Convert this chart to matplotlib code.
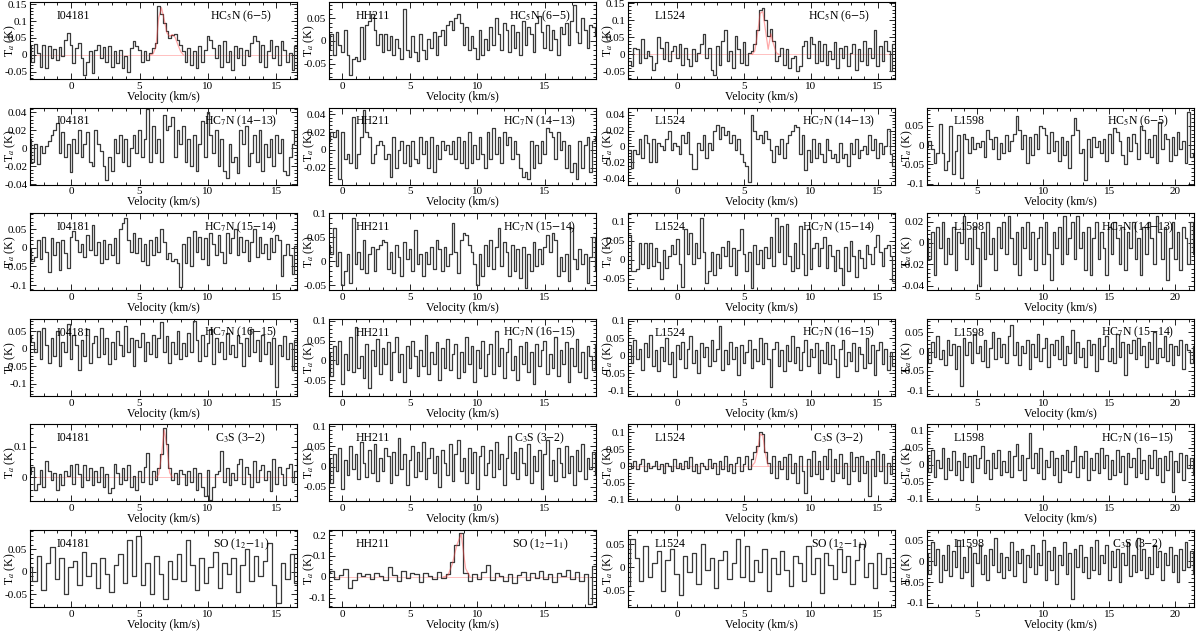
import numpy as np
import matplotlib
matplotlib.use("Agg")
import matplotlib.pyplot as plt
from matplotlib.ticker import MultipleLocator, AutoMinorLocator, FuncFormatter

plt.rcParams['font.family'] = ['Liberation Serif', 'DejaVu Serif']
plt.rcParams['mathtext.fontset'] = 'stix'
plt.rcParams['axes.unicode_minus'] = False

# ---------------- data (antenna temperature in mK, channel spectra) ----------------
sources = ["I04181", "HH211", "L1524", "L1598"]
# channel grids: first channel velocity (km/s) and channel width per panel column
chan_start = {"I04181": -3.0, "HH211": -1.0, "L1524": -3.6, "L1598": 1.2}
chan_width = 0.2
so_start = {"I04181": -3.0, "HH211": -1.1, "L1524": -3.7}
so_width = 0.33

i04181_hc5n_65 = [30,-20,32,5,-35,28,-40,25,-10,18,-15,22,-5,45,65,
                  30,-25,20,35,-10,-60,-20,10,-55,15,
                  30,-10,22,-20,25,-35,10,-25,15,-40,-5,-52,20,40,25,
                  15,-20,10,-15,5,20,
                  35,145,120,95,70,50,58,62,45,30,10,-20,20,
                  -30,10,-40,25,-20,15,55,45,20,-10,30,-35,40,-20,10,
                  -45,25,-10,20,-30,15,-5,35,55,40,-20,30,-35,10,45,-10,25,-30,40,15,-20,5,-45,25,-50]
i04181_hc5n_65_fit_v = [5.8,6.0,6.2,6.4,6.6,6.8,7.0,7.2,7.4,7.6,7.8,8.0,8.2]
i04181_hc5n_65_fit_t = [0,3,25,110,140,105,65,55,60,52,30,10,0]

hh211_hc5n_65 = [-20,15,-30,20,-10,-25,25,-30,-75,-40,
                 -35,-45,30,-40,35,45,60,25,-10,15,
                 -25,15,-20,10,-30,5,-15,-40,70,-20,
                 -35,10,-25,-45,15,-20,-40,5,-15,20,
                 -30,10,25,-10,35,45,25,50,60,40,
                 -10,30,-20,10,-15,-40,25,-30,5,-20,
                 30,-10,50,15,-20,40,25,-25,35,-15,
                 20,-30,45,-10,30,15,-25,40,55,20,
                 -15,35,-20,25,5,-30,30,15,40,-10,
                 45,80,20,-5,50,25,-15,35,30,10]

l1524_hc5n_65 = [-20,-35,20,15,-25,45,-10,10,-5,-45,-25,50,20,-15,35,-20,10,25,
                 -10,30,-30,20,-15,-35,15,-20,5,30,60,-10,20,-45,-60,25,-30,40,
                 70,-20,10,-40,55,15,-25,35,-30,5,10,
                 30,70,130,135,100,55,75,40,-20,-5,
                 20,-30,15,-40,-10,-5,-50,-35,25,40,-10,50,30,-25,
                 40,-20,30,-30,10,-15,35,-40,20,-10,25,-35,5,30,-45,15,-20,40,-30,20,-10,70,-35,25,-20,40,10,-50,30]
l1524_hc5n_65_fit_v = [5.6,5.8,6.0,6.2,6.4,6.6,6.8,7.0,7.2,7.4,7.6]
l1524_hc5n_65_fit_t = [0,10,60,120,125,70,15,60,30,5,0]

i04181_hc7n_1413 = [10,-15,5,-18,3,-5,2,8,15,20,28,-5,18,-10,5,
                    -26,10,-5,20,-10,5,18,-15,-20,20,5,-3,-20,-35,-10,
                    -25,10,-5,15,-15,10,-20,0,15,-5,20,-10,10,44,-15,
                    25,-5,10,-15,37,20,25,35,-10,20,5,25,-15,10,-20,
                    15,-25,5,30,-10,40,15,-5,20,-20,10,-25,-33,5,-15,
                    -10,-28,20,5,25,-20,-5,15,-15,20,-25,5,-10,10,-20,15,-5,10,-25,-30,-10,5,20,-15]

hh211_hc7n_1413 = [10,20,15,22,-33,20,-10,-5,-15,37,
                   -20,-5,15,45,20,15,-15,-5,5,10,
                   5,-10,-5,-30,15,-20,0,10,-15,5,
                   -18,10,-10,-15,15,-5,10,-20,15,-25,
                   5,-10,10,0,5,-5,10,-10,15,-15,
                   10,-20,20,-15,5,-10,15,-5,-20,20,
                   -10,25,-5,15,-15,20,5,15,-10,10,
                   -5,-20,-30,-25,-33,10,-20,5,-15,10,
                   -5,25,20,15,-10,20,0,10,-20,5,
                   -25,-15,-33,10,-20,5,15,-25,10,15]

l1524_hc7n_1413 = [-5,-27,-5,-10,10,-15,15,5,-20,10,
                   -20,5,0,-5,10,20,-5,5,0,-10,
                   15,5,18,-10,-28,-28,5,-5,15,-15,
                   5,-5,20,27,10,25,15,20,5,15,
                   -5,10,-10,-20,-25,-45,40,20,10,15,
                   5,20,10,-5,-20,0,-10,10,-15,5,
                   15,20,27,25,-10,15,-30,-5,-20,10,
                   -15,5,-10,-20,10,-5,-15,-10,-20,5,
                   -15,-10,-25,5,-10,10,-15,-5,0,-10,
                   15,-5,10,-15,5,-10,0,22,-10,-25]

l1598_hc5n_65 = [-5,10,-10,-45,-20,55,-20,-65,-40,50,
                 -75,-15,25,-85,30,15,-20,20,-10,5,
                 -5,10,-30,40,15,-10,20,-35,5,-20,
                 25,-15,10,30,75,40,-10,25,-45,20,
                 -25,30,-10,50,45,25,-20,35,-15,10,
                 -40,20,-25,10,-60,25,70,40,-20,-10,
                 -90,15,-30,20,-5,10,-20,15,-40,30,
                 -20,45,35,10,-25,-50,20,-15,30,5,
                 -35,50,40,-20,15,-30,25,-45,60,-10,
                 30,15,-40,20,-25,35,-10,10,-45,85,-30,-20]

i04181_hc7n_1514 = [0,-35,-25,20,-30,30,-10,-65,25,-20,15,-60,20,-15,-55,
                    30,45,20,-10,10,-25,35,-5,60,-20,15,-40,20,-30,10,
                    -20,25,-40,50,65,80,20,-10,40,-15,25,-35,10,-45,20,
                    -20,30,-10,50,15,-30,-15,-35,-30,-40,-105,10,-40,30,-50,
                    45,-10,30,-30,25,-45,40,10,-20,35,-10,-40,40,-15,25,
                    50,-20,30,-10,20,-35,15,50,-25,30,-15,10,-30,25,-10,35,20,-75,-20,10,-20,-70,5,-10]

hh211_hc7n_1514 = [35,15,70,-10,20,-50,-20,15,-45,90,
                   -5,20,-15,45,-25,15,30,-20,25,35,
                   45,40,-15,20,-25,35,10,-30,40,5,
                   25,-20,65,-5,15,-30,20,-5,30,-15,
                   45,25,-20,30,-10,15,80,20,-25,45,
                   60,55,35,20,-5,-50,15,-30,35,-10,
                   45,-15,30,70,-10,40,20,-30,35,-20,
                   25,-35,30,-55,15,-20,40,-10,25,-5,
                   30,55,20,60,45,-30,10,-20,15,-40,
                   70,5,-15,25,-5,15,-45,10,50,-20]

l1524_hc7n_1514 = [65,-30,-30,-25,45,-10,45,-20,45,-15,
                   30,-5,-50,25,-20,10,40,15,55,-10,
                   -70,80,15,70,-10,45,5,110,20,-60,
                   -30,20,-40,15,-20,35,10,50,-15,30,
                   -40,25,80,15,-30,20,-75,40,-10,25,
                   -20,35,5,60,-15,110,20,90,-10,95,
                   10,-30,45,-20,90,15,-40,80,-25,30,
                   45,-15,30,60,-20,40,10,-30,25,-20,
                   -65,35,-30,50,10,-45,25,5,-20,40,
                   15,-10,35,65,20,-15,30,40,10,-55]

l1598_hc7n_1413 = [5,-15,10,-30,15,-5,20,-20,5,-10,
                   15,-25,10,0,25,-15,5,-20,15,-5,
                   -40,10,-15,20,-10,5,-25,15,-5,20,
                   -10,25,5,-20,10,-30,15,-5,20,-15,
                   10,-25,5,15,-20,20,-10,-35,10,-5,
                   15,-20,25,-10,5,20,-15,25,-5,10,
                   -25,15,-30,5,20,-15,10,-5,-30,15,
                   -10,20,5,-20,15,-25,10,-5,20,-15,
                   5,-30,15,-10,20,5,-20,25,10,-15,
                   15,-35,-5,20,-15,10,-25,15,5,-20,20,-10]

i04181_hc7n_1615 = [40,20,-10,50,-30,60,10,-40,30,-20,50,-50,20,-10,70,
                    -30,40,10,-60,25,-20,55,-40,15,35,-25,60,-15,30,-45,
                    20,-30,50,10,-20,65,-10,30,-50,25,5,45,-35,20,-15,
                    40,-25,30,75,-10,35,-40,20,-15,50,-30,15,-20,45,-10,
                    80,25,-35,40,-20,15,55,-45,30,-10,20,-30,45,-15,10,
                    -25,40,15,-50,30,-20,55,-10,25,-35,40,-15,20,-45,30,-110,10,-20,35,-30,15,-60,25,-10]

hh211_hc7n_1615 = [20,-40,35,-10,50,-60,15,-25,60,-30,
                   85,-20,10,-45,40,-70,25,-15,55,-35,
                   30,-10,45,-50,20,60,-30,15,-55,35,
                   -20,50,10,-40,25,-15,65,-35,20,-10,
                   45,-50,30,-20,55,-25,15,40,-45,20,
                   -30,60,-10,35,-55,25,-20,50,-40,15,
                   40,-35,75,-15,30,-45,20,55,-25,10,
                   -50,35,-10,45,-30,20,-60,40,-15,25,
                   50,-35,15,-20,60,-40,25,-10,45,-55,
                   30,-15,55,-30,20,-45,35,10,-25,40]

l1524_hc7n_1615 = [30,-20,45,-10,20,-40,35,-5,60,-30,
                   15,-45,25,-15,50,-25,10,-60,30,-10,
                   40,-35,20,55,-20,15,-50,35,-5,25,
                   -30,45,-15,20,85,-40,15,-25,40,-10,
                   25,-55,30,-20,10,45,-35,20,-15,50,
                   -25,35,-10,-90,20,40,-30,15,-45,30,
                   -15,55,-20,25,-40,10,45,-30,20,-5,
                   35,-50,15,-20,40,-25,30,-10,-60,20,
                   45,-30,10,-15,35,-45,25,5,-35,50,
                   -20,30,-55,15,40,-25,20,-40,10,-30]

l1598_hc7n_1514 = [10,-30,25,-15,40,-20,5,-35,30,-10,
                   20,-45,15,-90,35,-10,25,-30,45,-5,
                   15,-25,30,-40,10,50,-20,35,-15,20,
                   -30,40,70,-10,25,-35,15,-5,30,-45,
                   20,-15,45,-25,10,35,-40,20,-10,30,
                   -20,40,-35,15,-5,55,-30,25,-15,10,
                   -40,30,-10,20,-50,35,-20,15,40,-25,
                   10,-30,45,-15,25,-60,20,-5,30,-20,
                   35,-10,15,-40,25,-20,50,-30,10,-15,
                   40,-25,20,-35,15,-10,30,-45,20,5,-30,15]

i04181_c3s_32 = [10,35,-40,-20,25,-30,55,20,-10,15,-40,10,-25,20,5,
                 40,-20,45,10,-30,40,-10,30,-25,20,-15,35,-30,10,-50,
                 -35,45,15,-20,30,-10,40,-30,5,-40,20,-15,35,80,-20,
                 20,-10,30,75,160,110,30,-10,15,-20,25,10,-25,20,-15,
                 30,-40,15,-30,-60,25,-75,-30,10,20,85,-15,30,-25,15,
                 -10,45,60,-20,35,10,-30,55,-15,25,40,-10,20,-45,60,-20,35,10,-25,30,45,-15,20,65]
i04181_c3s_32_fit_v = [6.2,6.4,6.6,6.8,7.0,7.2,7.4]
i04181_c3s_32_fit_t = [0,10,70,155,100,15,0]

hh211_c3s_32 = [20,-40,30,-10,45,-55,15,-20,50,-5,
                30,-30,60,10,-25,40,-15,55,-35,20,
                -10,45,25,-40,35,-20,70,-5,30,-45,
                15,50,-25,35,-10,60,-30,20,45,-15,
                25,-50,40,10,-20,55,-35,30,65,-10,
                20,-40,45,-15,35,-55,25,50,-20,10,
                40,-25,60,-5,30,-45,20,75,-15,35,
                -30,45,10,-20,55,-40,25,-10,40,-55,
                30,65,-20,15,-35,45,10,-25,50,-15,
                25,-45,40,-10,55,-30,20,-5,35,-20]

l1524_c3s_32 = [10,-5,15,-10,5,20,-15,10,-5,0,
                15,-10,5,-20,10,0,-15,20,-5,10,
                -10,15,-5,25,-15,5,-20,10,0,-10,
                20,-5,10,-25,15,-10,30,-15,5,-20,
                10,25,-15,5,30,-10,20,40,60,100,
                95,40,10,-20,30,-35,15,-10,25,-40,
                35,-20,10,-50,30,-15,-80,20,-30,45,
                -25,15,-40,30,-10,50,-45,20,-20,35,
                -35,10,-55,40,-15,25,-45,30,-20,15,
                -90,20,-30,45,-15,35,-50,10,-25,30]
l1524_c3s_32_fit_v = [5.6,5.8,6.0,6.2,6.4,6.6,6.8]
l1524_c3s_32_fit_t = [0,10,45,95,90,35,0]

l1598_hc7n_1615 = [30,-20,45,-35,15,-10,50,-40,20,-15,
                   40,-30,10,-45,35,-5,25,-50,30,-10,
                   20,55,-25,15,-40,35,-10,45,-30,10,
                   -20,40,-35,25,60,-15,30,-45,20,95,
                   -10,35,-25,50,-40,15,-5,40,-30,20,
                   -50,30,-15,45,-20,10,55,-35,25,-10,
                   40,-45,20,-15,35,-25,50,-10,30,-40,
                   15,-30,45,-20,25,-55,35,-5,20,-35,
                   50,-25,15,-40,30,-10,45,-30,20,-50,
                   25,-15,40,-80,10,-20,35,-45,30,-10,20,-30]

i04181_so = [10,-20,35,-40,20,55,-15,30,-50,10,25,-30,45,-10,20,
             -35,30,-5,-45,15,40,-25,70,-10,80,-30,20,-50,35,-5,
             -60,25,-15,40,-20,70,15,-40,30,-25,10,45,-35,20,-5,
             30,-45,15,50,-20,35,-10,25,65,-30,-70,20,-15,40,-25]

hh211_so = [20,30,-10,10,40,-55,-15,20,5,15,
            -10,20,5,-15,45,10,-20,30,-5,20,
            15,-25,20,5,-10,25,-5,15,70,150,
            210,20,-20,15,-10,25,55,-15,20,5,
            -20,15,-30,10,25,-15,20,-5,30,-10,
            15,-25,20,5,35,-10,25,-20,15,-130,50,30]
hh211_so_fit_v = [7.48,7.81,8.14,8.47,8.80,9.13,9.46]
hh211_so_fit_t = [0,5,60,150,205,40,0]

l1524_so = [-40,60,20,-30,45,-20,10,35,-50,15,
            40,-15,-60,25,-10,30,-35,50,-5,20,
            -45,15,35,-25,10,60,-20,45,-30,15,
            -10,40,-50,20,-15,35,-5,-40,25,10,
            -30,45,-15,20,-55,30,5,-25,40,-10,
            25,-35,15,50,-20,10,-45,30,-15,20,-30]

l1598_c3s_32 = [20,-30,45,-10,30,-50,15,-20,40,-35,
                25,-15,50,-40,10,-25,35,-60,20,-5,
                40,-30,15,-45,30,-10,55,-25,20,-40,
                10,-20,45,-35,25,-5,30,-50,15,-15,
                40,-30,20,-10,50,-45,25,-20,35,-55,
                15,-10,45,-30,20,-90,30,-15,40,-25,
                10,-40,35,-20,50,-30,15,-5,40,-45,
                25,-15,30,-50,20,-10,45,-35,15,-25,
                55,-20,30,-40,10,-30,40,-15,25,-45,
                20,-10,35,-25,15,-50,30,-20,45,-15,25,-30]

# ---------------- layout ----------------
xlims = {"I04181": (-3.0, 16.5), "HH211": (-1.0, 18.8), "L1524": (-3.7, 16.3), "L1598": (1.2, 21.4)}
col_left_px = [30, 329, 628, 927]
row_top_px = [2, 107.6, 213, 318.8, 424, 530]
ax_w_px, ax_h_px = 267, 77

# (row, col, source, line label, spectrum, fit_v, fit_t, is_SO, ylim, ystep)
panels = [
    (0, 0, "I04181", "HC$_5$N (6$-$5)", i04181_hc5n_65, i04181_hc5n_65_fit_v, i04181_hc5n_65_fit_t, False, (-0.072, 0.157), 0.05),
    (0, 1, "HH211", "HC$_5$N (6$-$5)", hh211_hc5n_65, None, None, False, (-0.084, 0.086), 0.05),
    (0, 2, "L1524", "HC$_5$N (6$-$5)", l1524_hc5n_65, l1524_hc5n_65_fit_v, l1524_hc5n_65_fit_t, False, (-0.072, 0.153), 0.05),
    (1, 0, "I04181", "HC$_7$N (14$-$13)", i04181_hc7n_1413, None, None, False, (-0.0406, 0.0453), 0.02),
    (1, 1, "HH211", "HC$_7$N (14$-$13)", hh211_hc7n_1413, None, None, False, (-0.039, 0.0475), 0.02),
    (1, 2, "L1524", "HC$_7$N (14$-$13)", l1524_hc7n_1413, None, None, False, (-0.048, 0.049), 0.02),
    (1, 3, "L1598", "HC$_5$N (6$-$5)", l1598_hc5n_65, None, None, False, (-0.102, 0.097), 0.05),
    (2, 0, "I04181", "HC$_7$N (15$-$14)", i04181_hc7n_1514, None, None, False, (-0.113, 0.093), 0.05),
    (2, 1, "HH211", "HC$_7$N (15$-$14)", hh211_hc7n_1514, None, None, False, (-0.0595, 0.101), 0.05),
    (2, 2, "L1524", "HC$_7$N (15$-$14)", l1524_hc7n_1514, None, None, False, (-0.079, 0.123), 0.05),
    (2, 3, "L1598", "HC$_7$N (14$-$13)", l1598_hc7n_1413, None, None, False, (-0.044, 0.028), 0.02),
    (3, 0, "I04181", "HC$_7$N (16$-$15)", i04181_hc7n_1615, None, None, False, (-0.135, 0.085), 0.05),
    (3, 1, "HH211", "HC$_7$N (16$-$15)", hh211_hc7n_1615, None, None, False, (-0.09, 0.105), 0.05),
    (3, 2, "L1524", "HC$_7$N (16$-$15)", l1524_hc7n_1615, None, None, False, (-0.115, 0.105), 0.05),
    (3, 3, "L1598", "HC$_7$N (15$-$14)", l1598_hc7n_1514, None, None, False, (-0.115, 0.085), 0.05),
    (4, 0, "I04181", "C$_3$S (3$-$2)", i04181_c3s_32, i04181_c3s_32_fit_v, i04181_c3s_32_fit_t, False, (-0.077, 0.174), 0.1),
    (4, 1, "HH211", "C$_3$S (3$-$2)", hh211_c3s_32, None, None, False, (-0.085, 0.105), 0.05),
    (4, 2, "L1524", "C$_3$S (3$-$2)", l1524_c3s_32, l1524_c3s_32_fit_v, l1524_c3s_32_fit_t, False, (-0.105, 0.125), 0.05),
    (4, 3, "L1598", "HC$_7$N (16$-$15)", l1598_hc7n_1615, None, None, False, (-0.106, 0.12), 0.05),
    (5, 0, "I04181", "SO (1$_2$$-$1$_1$)", i04181_so, None, None, True, (-0.078, 0.093), 0.05),
    (5, 1, "HH211", "SO (1$_2$$-$1$_1$)", hh211_so, hh211_so_fit_v, hh211_so_fit_t, True, (-0.144, 0.224), 0.1),
    (5, 2, "L1524", "SO (1$_2$$-$1$_1$)", l1524_so, None, None, True, (-0.085, 0.08), 0.05),
    (5, 3, "L1598", "C$_3$S (3$-$2)", l1598_c3s_32, None, None, False, (-0.11, 0.075), 0.05),
]

fig = plt.figure(figsize=(12, 6.4), dpi=100)
W, H = 1200.0, 640.0

def fmt(val, pos):
    s = "%g" % round(val, 4)
    return "0" if s in ("-0", "0") else s

spec_color = "#3a3a3a"
for (r, c, src, line, spec, fv, ft, is_so, ylim, ystep) in panels:
    left = col_left_px[c] / W
    bottom = 1 - (row_top_px[r] + ax_h_px) / H
    ax = fig.add_axes([left, bottom, ax_w_px / W, ax_h_px / H])
    t = np.array(spec) / 1000.0
    if is_so:
        v = so_start[src] + so_width * np.arange(len(t))
    else:
        v = chan_start[src] + chan_width * np.arange(len(t))
    if fv is not None:
        ax.axhline(0, color="#ff6060", lw=0.7, alpha=0.4, zorder=1)
        ax.plot(fv, np.array(ft) / 1000.0, color="#ff4040", lw=0.9, alpha=0.45, zorder=3)
    ax.step(v, t, where="mid", color=spec_color, lw=0.9, zorder=2)
    ax.set_xlim(*xlims[src])
    ax.set_ylim(*ylim)
    ax.xaxis.set_major_locator(MultipleLocator(5))
    ax.xaxis.set_minor_locator(AutoMinorLocator(5))
    ax.yaxis.set_major_locator(MultipleLocator(ystep))
    ax.yaxis.set_minor_locator(AutoMinorLocator(5))
    ax.yaxis.set_major_formatter(FuncFormatter(fmt))
    ax.tick_params(which="both", direction="in", top=True, right=True, labelsize=8, width=0.6, pad=2)
    ax.tick_params(which="major", length=4)
    ax.tick_params(which="minor", length=2)
    for sp in ax.spines.values():
        sp.set_linewidth(0.8)
    ax.set_xlabel("Velocity (km/s)", fontsize=8.5, labelpad=0)
    ax.set_ylabel("T$_a$ (K)", fontsize=8.5)
    ax.yaxis.set_label_coords(-0.045, 0.5)
    ax.text(0.1, 0.82, src, transform=ax.transAxes, fontsize=8.5, ha="left", va="center")
    ax.text(0.79, 0.82, line, transform=ax.transAxes, fontsize=8.5, ha="center", va="center")

fig.savefig("out.png", dpi=100)
